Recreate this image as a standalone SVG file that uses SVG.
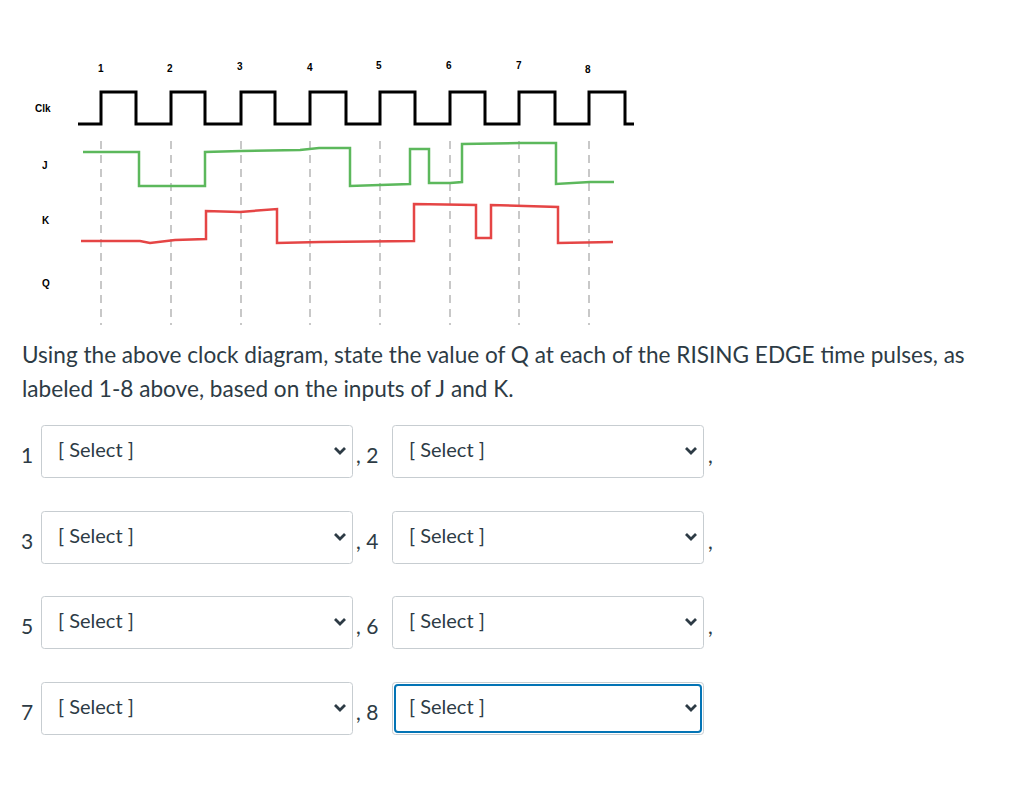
<svg xmlns="http://www.w3.org/2000/svg" width="1024" height="811" viewBox="0 0 1024 811">
<style>
.lb{font-family:"Liberation Sans",Arial,sans-serif;font-weight:bold;font-size:10px;fill:#000}
.t{font-family:Lato,"Liberation Sans",sans-serif;font-size:22.6px;fill:#2d3b45}
.n{font-family:Lato,"Liberation Sans",sans-serif;font-size:21px;fill:#2d3b45}
.s{font-family:Lato,"Liberation Sans",sans-serif;font-size:20px;fill:#2d3b45}
.box{fill:#fff;stroke:#c7cdd1;stroke-width:1}
.dash{stroke:#c8c8c8;stroke-width:2;stroke-dasharray:8 6}
.chev{fill:none;stroke:#2d3b45;stroke-width:2.8}
</style>
<rect width="1024" height="811" fill="#fff"/>
<g id="grid">
<line class="dash" x1="101" y1="141" x2="101" y2="325"/><line class="dash" x1="171" y1="141" x2="171" y2="325"/>
<line class="dash" x1="241" y1="141" x2="241" y2="325"/><line class="dash" x1="310" y1="141" x2="310" y2="325"/>
<line class="dash" x1="380" y1="141" x2="380" y2="325"/><line class="dash" x1="450" y1="141" x2="450" y2="325"/>
<line class="dash" x1="519" y1="141" x2="519" y2="325"/><line class="dash" x1="589" y1="141" x2="589" y2="325"/>
</g>
<g id="labels" class="lb">
<text x="35" y="112">Clk</text><text x="42" y="169">J</text><text x="42" y="224">K</text><text x="42" y="287">Q</text>
<text x="98" y="72">1</text><text x="167" y="72">2</text><text x="237" y="70">3</text><text x="307" y="71">4</text>
<text x="376" y="69">5</text><text x="446" y="69">6</text><text x="516" y="69">7</text><text x="585" y="73">8</text>
</g>
<g id="signals" fill="none" stroke-width="2.5">
<path stroke="#000" stroke-width="3" d="M78 124H101V92H136V124H171V92H205V124H241V92H275V124H310V92H346V124H380V92H415V124H450V92H485V124H519V92H555V124H589V92H625V124H634"/>
<path stroke="#5cb85c" d="M83 152H139V186H205V152L241 151L300 150L319 148H350V186L380 185L410 184V149H429V183H450L462 182V144L520 143L556 143V184L590 182L614 182"/>
<path stroke="#e54545" d="M81 241L140 241L150 243L175 240L206 239V211L240 212L277 209V243L320 242L414 241V204L476 205V238H491V205L558 207V243L613 242"/>
</g>
<text class="t" x="22" y="363">Using the above clock diagram, state the value of Q at each of the RISING EDGE time pulses, as</text>
<text class="t" x="22" y="397">labeled 1-8 above, based on the inputs of J and K.</text>
<g id="row1">
<text class="n" x="21" y="463">1</text><rect class="box" x="41.5" y="425.5" width="311" height="52" rx="3"/><text class="s" x="58" y="457">[ Select ]</text><path class="chev" d="M335 448l5 5 5-5"/>
<text class="n" x="356" y="463">, 2</text><rect class="box" x="392.5" y="425.5" width="311" height="52" rx="3"/><text class="s" x="409" y="457">[ Select ]</text><path class="chev" d="M686 448l5 5 5-5"/><text class="n" x="708" y="463">,</text>
</g>
<g id="row2">
<text class="n" x="21" y="549">3</text><rect class="box" x="41.5" y="511.5" width="311" height="52" rx="3"/><text class="s" x="58" y="543">[ Select ]</text><path class="chev" d="M335 534l5 5 5-5"/>
<text class="n" x="356" y="549">, 4</text><rect class="box" x="392.5" y="511.5" width="311" height="52" rx="3"/><text class="s" x="409" y="543">[ Select ]</text><path class="chev" d="M686 534l5 5 5-5"/><text class="n" x="708" y="549">,</text>
</g>
<g id="row3">
<text class="n" x="21" y="634">5</text><rect class="box" x="41.5" y="596.5" width="311" height="52" rx="3"/><text class="s" x="58" y="628">[ Select ]</text><path class="chev" d="M335 619l5 5 5-5"/>
<text class="n" x="356" y="634">, 6</text><rect class="box" x="392.5" y="596.5" width="311" height="52" rx="3"/><text class="s" x="409" y="628">[ Select ]</text><path class="chev" d="M686 619l5 5 5-5"/><text class="n" x="708" y="634">,</text>
</g>
<g id="row4">
<text class="n" x="21" y="720">7</text><rect class="box" x="41.5" y="682.5" width="311" height="52" rx="3"/><text class="s" x="58" y="714">[ Select ]</text><path class="chev" d="M335 705l5 5 5-5"/>
<text class="n" x="356" y="720">, 8</text><rect x="392.5" y="682.5" width="311" height="52" rx="3" fill="#fff" stroke="#c7cdd1"/><rect x="395" y="685" width="306" height="47" rx="3" fill="none" stroke="#0374b5" stroke-width="2"/><text class="s" x="409" y="714">[ Select ]</text><path class="chev" d="M686 705l5 5 5-5"/>
</g>
</svg>
